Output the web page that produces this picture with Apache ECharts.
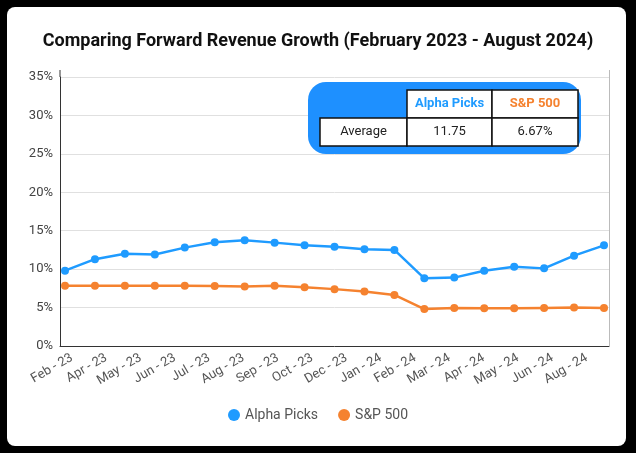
<!DOCTYPE html>
<html>
<head>
<meta charset="utf-8">
<script src="https://cdn.jsdelivr.net/npm/echarts@6/dist/echarts.min.js"></script>
<style>
  html, body { margin:0; padding:0; background:#000; }
  #card { position:absolute; left:7px; top:7px; width:619px; height:439px; background:#fff; border-radius:8px; }
  #chart { position:absolute; left:0; top:0; width:636px; height:453px; }
</style>
</head>
<body>
<div id="card"></div>
<div id="chart"></div>
<script>
// ---- data ----
const months = ['Feb-23','Mar-23','Apr-23','May-23','Jun-23','Jul-23','Aug-23','Sep-23','Oct-23','Nov-23','Dec-23','Jan-24','Feb-24','Mar-24','Apr-24','May-24','Jun-24','Jul-24','Aug-24'];
const tickLabels = ['Feb - 23','Apr - 23','May - 23','Jun - 23','Jul - 23','Aug - 23','Sep - 23','Oct - 23','Dec - 23','Jan - 24','Feb - 24','Mar - 24','Apr - 24','May - 24','Jun - 24','Aug - 24'];
const alphaPicks = [9.8, 11.3, 12.0, 11.9, 12.8, 13.5, 13.75, 13.45, 13.1, 12.9, 12.6, 12.5, 8.8, 8.9, 9.8, 10.3, 10.1, 11.75, 13.1];
const sp500 = [7.85, 7.85, 7.85, 7.85, 7.85, 7.8, 7.75, 7.85, 7.65, 7.4, 7.1, 6.65, 4.8, 4.95, 4.9, 4.9, 4.95, 5.0, 4.95];
const yTicks = [0, 35, 5]; // min, max, interval
const seriesNames = ['Alpha Picks', 'S&P 500'];
const tableRowLabel = 'Average';
const tableValues = ['11.75', '6.67%'];
const title = 'Comparing Forward Revenue Growth (February 2023 - August 2024)';

const BLUE = '#1f9bff', ORANGE = '#f5822f', BOX = '#1e90ff';
const FONT = 'Roboto';

const chart = echarts.init(document.getElementById('chart'), null, {renderer:'canvas'});

const tableEls = [
  {type:'rect', z:100, shape:{x:308, y:82, width:273, height:72, r:18}, style:{fill:BOX}},
  {type:'rect', z:101, shape:{x:407, y:90, width:85, height:28}, style:{fill:'#fff', stroke:'#111', lineWidth:1.5}},
  {type:'rect', z:101, shape:{x:492, y:90, width:86, height:28}, style:{fill:'#fff', stroke:'#111', lineWidth:1.5}},
  {type:'rect', z:101, shape:{x:320, y:118, width:87, height:28}, style:{fill:'#fff', stroke:'#111', lineWidth:1.5}},
  {type:'rect', z:101, shape:{x:407, y:118, width:85, height:28}, style:{fill:'#fff', stroke:'#111', lineWidth:1.5}},
  {type:'rect', z:101, shape:{x:492, y:118, width:86, height:28}, style:{fill:'#fff', stroke:'#111', lineWidth:1.5}},
  {type:'text', z:102, x:449.5, y:104, style:{text:seriesNames[0], fill:BLUE, font:'bold 13px '+FONT, align:'center', verticalAlign:'middle'}},
  {type:'text', z:102, x:535, y:104, style:{text:seriesNames[1], fill:ORANGE, font:'bold 13px '+FONT, align:'center', verticalAlign:'middle'}},
  {type:'text', z:102, x:363.5, y:132, style:{text:tableRowLabel, fill:'#222', font:'13px '+FONT, align:'center', verticalAlign:'middle'}},
  {type:'text', z:102, x:449.5, y:132, style:{text:tableValues[0], fill:'#222', font:'13px '+FONT, align:'center', verticalAlign:'middle'}},
  {type:'text', z:102, x:535, y:132, style:{text:tableValues[1], fill:'#222', font:'13px '+FONT, align:'center', verticalAlign:'middle'}},
  {type:'line', z:50, shape:{x1:60, y1:70, x2:60, y2:77}, style:{stroke:'#333', lineWidth:1}},
  {type:'line', z:50, shape:{x1:609.5, y1:70, x2:609.5, y2:346}, style:{stroke:'#bbb', lineWidth:1}}
];

chart.setOption({
  backgroundColor:'transparent',
  animation:false,
  title:{ text:title, left:'center', top:27, textStyle:{fontFamily:FONT, fontSize:18, fontWeight:'bold', color:'#111'} },
  legend:{ data:seriesNames, bottom:26, left:'center', icon:'circle', itemWidth:12, itemHeight:12, itemGap:20,
           textStyle:{fontFamily:FONT, fontSize:14, color:'#555'} },
  grid:[
    {left:60, right:27, top:77, bottom:107},
    {left:65, right:32, top:77, bottom:107}
  ],
  xAxis:[
    {type:'category', gridIndex:0, data:tickLabels, boundaryGap:true,
     axisLine:{show:true, lineStyle:{color:'#333'}}, axisTick:{show:false},
     axisLabel:{rotate:30, fontFamily:FONT, fontSize:13, color:'#555', margin:8, interval:0, padding:[0,6,0,0]}},
    {type:'category', gridIndex:1, data:months, boundaryGap:false, show:false}
  ],
  yAxis:[
    {type:'value', gridIndex:0, min:yTicks[0], max:yTicks[1], interval:yTicks[2],
     axisLine:{show:true, lineStyle:{color:'#333'}}, axisTick:{show:false},
     splitLine:{lineStyle:{color:'#e0e0e0'}},
     axisLabel:{formatter:'{value}%', fontFamily:FONT, fontSize:13, color:'#444', margin:7}},
    {type:'value', gridIndex:1, min:yTicks[0], max:yTicks[1], interval:yTicks[2], show:false}
  ],
  series:[
    {name:seriesNames[0], type:'line', xAxisIndex:1, yAxisIndex:1, data:alphaPicks, color:BLUE,
     symbol:'circle', symbolSize:8, lineStyle:{width:2.5}},
    {name:seriesNames[1], type:'line', xAxisIndex:1, yAxisIndex:1, data:sp500, color:ORANGE,
     symbol:'circle', symbolSize:8, lineStyle:{width:2.5}}
  ],
  graphic:tableEls
});
</script>
</body>
</html>
